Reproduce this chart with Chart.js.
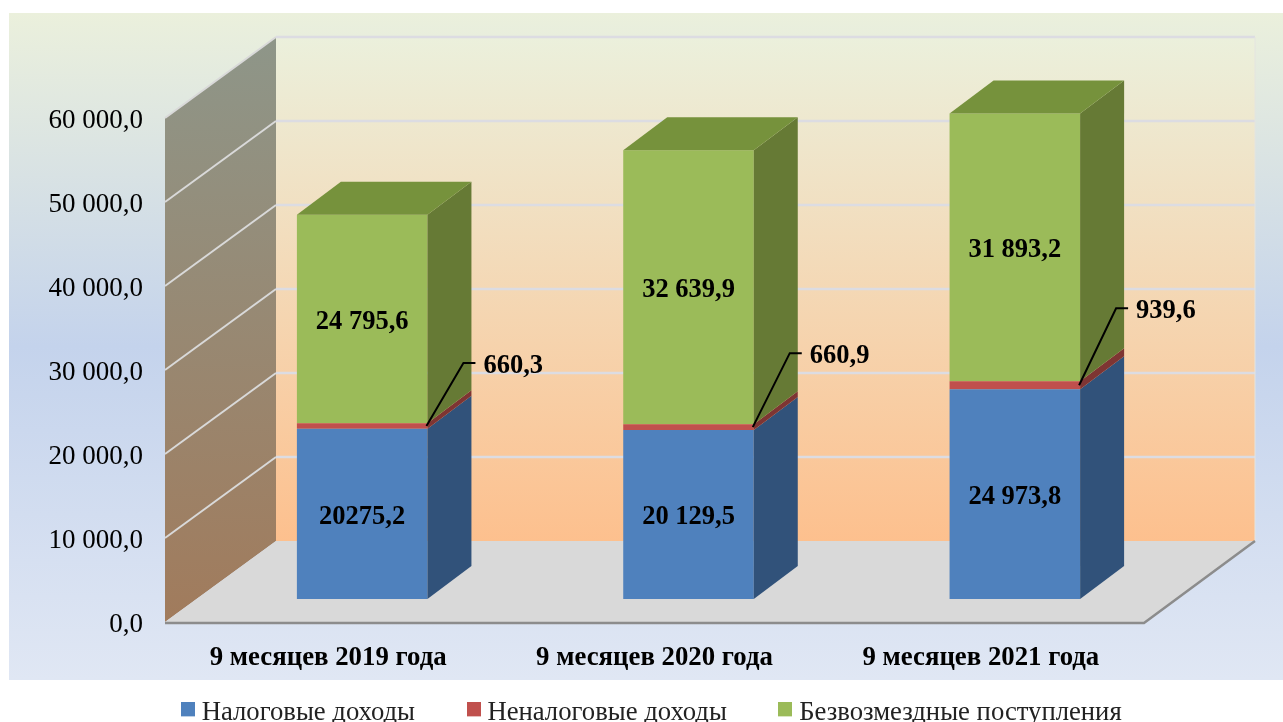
<!DOCTYPE html>
<html>
<head>
<meta charset="utf-8">
<title>Доходы</title>
<style>
    html, body { margin: 0; padding: 0; background: #fff; }
    canvas { display: block; }
</style>
<script src="https://cdn.jsdelivr.net/npm/chart.js@4/dist/chart.umd.js"></script>
</head>
<body>
<canvas id="chart" width="1283" height="722"></canvas>
<script>
const categories = ['9 месяцев 2019 года', '9 месяцев 2020 года', '9 месяцев 2021 года'];
const taxIncome = [20275.2, 20129.5, 24973.8];
const nonTaxIncome = [660.3, 660.9, 939.6];
const grants = [24795.6, 32639.9, 31893.2];

const taxLabels = ['20275,2', '20 129,5', '24 973,8'];
const nonTaxLabels = ['660,3', '660,9', '939,6'];
const grantLabels = ['24 795,6', '32 639,9', '31 893,2'];
const yTickLabels = ['0,0', '10 000,0', '20 000,0', '30 000,0', '40 000,0', '50 000,0', '60 000,0'];

// 3d look: wall depth, bar shift from the front plane, bar depth
const wall = { dx: 111, dy: -81 };
const shift = { dx: 34, dy: -26 };
const depth = { dx: 44, dy: -33 };
const leaderLift = [63, 74, 77];
const lift = 3; // tick labels sit a bit under the gridlines they belong to

const FONT = "'Liberation Serif', 'Times New Roman', serif";
const LEGEND_GAP = 58;

const poly = (ctx, points, fill) => {
    ctx.beginPath();
    points.forEach(([x, y], i) => (i ? ctx.lineTo(x, y) : ctx.moveTo(x, y)));
    ctx.closePath();
    ctx.fillStyle = fill;
    ctx.fill();
};

const line = (ctx, points, color, width) => {
    ctx.beginPath();
    points.forEach(([x, y], i) => (i ? ctx.lineTo(x, y) : ctx.moveTo(x, y)));
    ctx.strokeStyle = color;
    ctx.lineWidth = width;
    ctx.stroke();
};

// legend marker, taller canvas moves the square up a little
const swatch = (color) => {
    const c = document.createElement('canvas');
    c.width = 14;
    c.height = 22;
    const g = c.getContext('2d');
    g.fillStyle = color;
    g.fillRect(0, 0, 14, 14);
    return c;
};

const box3d = {
    id: 'box3d',
    afterLayout(chart) {
        // labels get clipped to the scale box, legend row goes under the panel
        chart.scales.x.bottom = 680;
        chart.legend.top = 710 - LEGEND_GAP - 10;
        chart.legend.left += 3;
        chart.legend.right += 3;
    },
    beforeDraw(chart) {
        const { ctx, width } = chart;
        const { left, right } = chart.chartArea;
        const top = chart.chartArea.top - lift;
        const bottom = chart.chartArea.bottom - lift;
        const y = chart.scales.y;

        ctx.save();
        const bg = ctx.createLinearGradient(0, 13, 0, 680);
        bg.addColorStop(0, '#ebf0dc');
        bg.addColorStop(0.5, '#c4d3ec');
        bg.addColorStop(1, '#e0e7f4');
        ctx.fillStyle = bg;
        ctx.fillRect(9, 13, width - 9, 667);

        // back wall
        const back = ctx.createLinearGradient(0, top + wall.dy, 0, bottom + wall.dy);
        back.addColorStop(0, '#ebf0dc');
        back.addColorStop(1, '#fdc08e');
        ctx.fillStyle = back;
        ctx.fillRect(left + wall.dx, top + wall.dy, right - left, bottom - top);

        // side wall
        const side = ctx.createLinearGradient(0, top + wall.dy, 0, bottom);
        side.addColorStop(0, '#8e9689');
        side.addColorStop(1, '#a17b5c');
        poly(ctx, [
            [left, top],
            [left + wall.dx, top + wall.dy],
            [left + wall.dx, bottom + wall.dy],
            [left, bottom]
        ], side);

        // floor
        poly(ctx, [
            [left, bottom],
            [left + wall.dx, bottom + wall.dy],
            [right + wall.dx, bottom + wall.dy],
            [right, bottom]
        ], '#d9d9d9');

        for (const tick of y.ticks) {
            const py = y.getPixelForValue(tick.value) - lift;
            if (tick.value > 0) {
                line(ctx, [[left, py], [left + wall.dx, py + wall.dy]], '#d9d9d9', 2);
                line(ctx, [[left + wall.dx, py + wall.dy], [right + wall.dx, py + wall.dy]], '#dcdce2', 2.5);
            }
        }
        line(ctx, [[right + wall.dx, top + wall.dy], [right + wall.dx, bottom + wall.dy]], '#e4e4e0', 1);
        line(ctx, [[left, bottom + 1], [right, bottom + 1], [right + wall.dx, bottom + wall.dy]], '#8c8c8c', 2.5);
        ctx.restore();
    },
    beforeDatasetsDraw(chart) {
        chart.ctx.save();
        chart.ctx.translate(shift.dx, shift.dy);
    },
    afterDatasetsDraw(chart) {
        const { ctx } = chart;
        ctx.restore();
        ctx.save();

        chart.data.datasets.forEach((ds, d) => {
            chart.getDatasetMeta(d).data.forEach((bar) => {
                const xr = bar.x + bar.width / 2 + shift.dx;
                const yt = bar.y + shift.dy;
                const yb = bar.base + shift.dy;
                poly(ctx, [
                    [xr, yt],
                    [xr + depth.dx, yt + depth.dy],
                    [xr + depth.dx, yb + depth.dy],
                    [xr, yb]
                ], ds.sideColor);
                if (d === chart.data.datasets.length - 1) {
                    const xl = xr - bar.width;
                    poly(ctx, [
                        [xl, yt],
                        [xl + depth.dx, yt + depth.dy],
                        [xr + depth.dx, yt + depth.dy],
                        [xr, yt]
                    ], ds.topColor);
                }
            });
        });

        ctx.fillStyle = '#000';
        ctx.font = 'bold 26.5px ' + FONT;
        ctx.textBaseline = 'middle';

        chart.data.datasets.forEach((ds, d) => {
            chart.getDatasetMeta(d).data.forEach((bar, i) => {
                const cx = bar.x + shift.dx;
                const cy = (bar.y + bar.base) / 2 + shift.dy;
                if (d === 1) {
                    const x0 = bar.x + bar.width / 2 + shift.dx - 1;
                    const y1 = cy - leaderLift[i];
                    line(ctx, [[x0, cy], [x0 + 37, y1], [x0 + 49, y1]], '#000', 2);
                    ctx.textAlign = 'left';
                    ctx.fillText(ds.valueLabels[i], x0 + 57, y1 + 3);
                } else {
                    ctx.textAlign = 'center';
                    ctx.fillText(ds.valueLabels[i], cx, cy + 3);
                }
            });
        });
        ctx.restore();
    }
};

new Chart(document.getElementById('chart'), {
    type: 'bar',
    data: {
        labels: categories,
        datasets: [
            { label: 'Налоговые доходы', data: taxIncome, backgroundColor: '#4f81bd', sideColor: '#31527a', valueLabels: taxLabels },
            { label: 'Неналоговые доходы', data: nonTaxIncome, backgroundColor: '#c0504d', sideColor: '#7e3533', valueLabels: nonTaxLabels },
            { label: 'Безвозмездные поступления', data: grants, backgroundColor: '#9bbb59', sideColor: '#667a35', topColor: '#76923c', valueLabels: grantLabels }
        ]
    },
    options: {
        responsive: false,
        animation: false,
        layout: { padding: { top: 121, left: 20, right: 0, bottom: -60 } },
        datasets: { bar: { categoryPercentage: 1, barPercentage: 0.4, borderWidth: 0 } },
        plugins: {
            tooltip: { enabled: false },
            legend: {
                position: 'bottom',
                labels: {
                    usePointStyle: true,
                    pointStyleWidth: 1,
                    padding: LEGEND_GAP,
                    color: '#222',
                    font: { family: FONT, size: 26.7 },
                    generateLabels: (chart) => Chart.defaults.plugins.legend.labels.generateLabels(chart)
                        .map((item, i) => ({ ...item, pointStyle: swatch(chart.data.datasets[i].backgroundColor) }))
                }
            }
        },
        scales: {
            x: {
                stacked: true,
                grid: { display: false },
                border: { display: false },
                afterFit: (scale) => { scale.height = 157 - (scale.chart.legend.height || 0); },
                ticks: {
                    padding: 9,
                    maxRotation: 0,
                    autoSkip: false,
                    color: '#000',
                    font: { family: FONT, size: 26.8, weight: 'bold' }
                }
            },
            y: {
                stacked: true,
                min: 0,
                max: 60000,
                grid: { display: false },
                border: { display: false },
                afterFit: (scale) => { scale.width = 145; },
                ticks: {
                    stepSize: 10000,
                    padding: 14,
                    color: '#000',
                    font: { family: FONT, size: 27 },
                    callback: (value, index) => yTickLabels[index]
                }
            },
            spare: {
                type: 'linear',
                position: 'right',
                grid: { display: false },
                border: { display: false },
                ticks: { display: false },
                afterFit: (scale) => { scale.width = 139; }
            }
        }
    },
    plugins: [box3d]
});
</script>
</body>
</html>
